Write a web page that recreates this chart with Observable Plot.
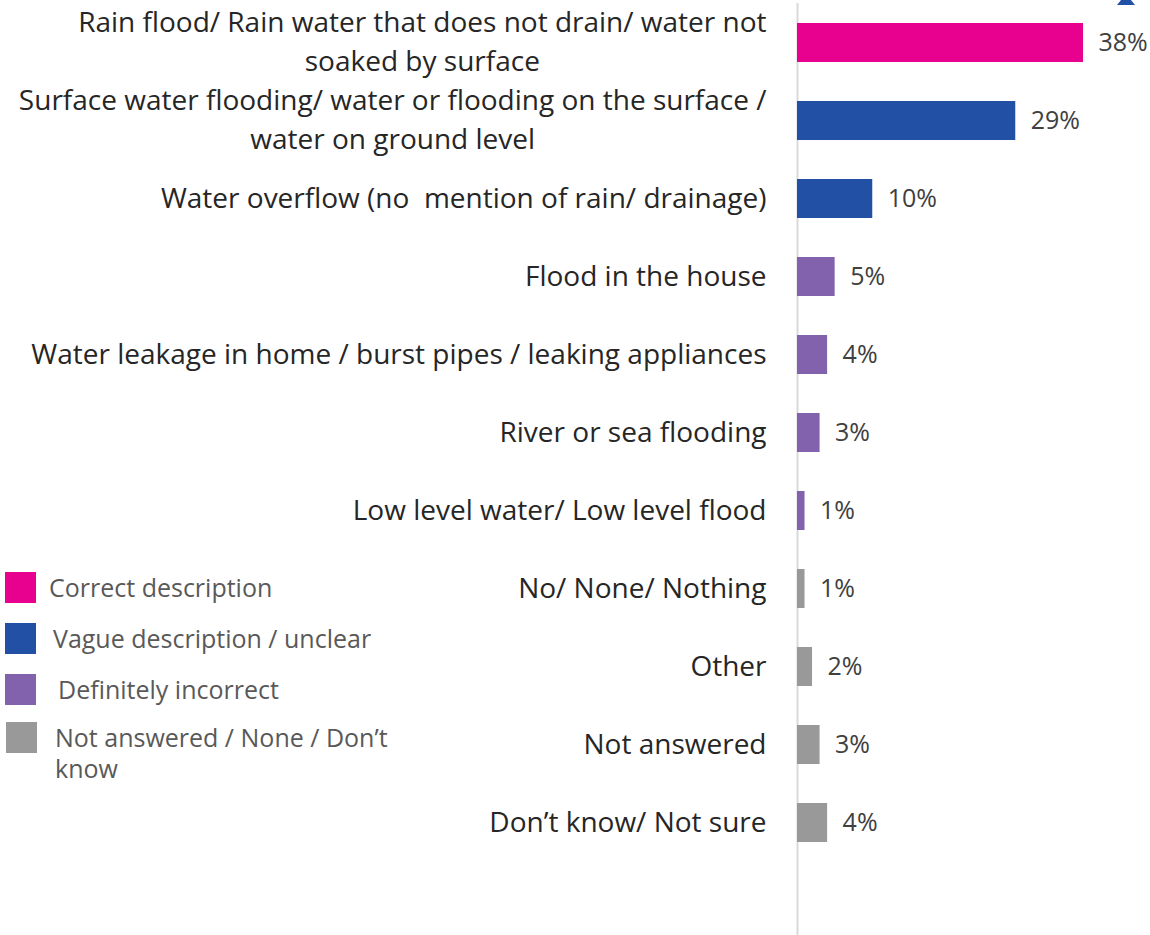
<!DOCTYPE html>
<html>
<head>
<meta charset="utf-8">
<script src="https://cdn.jsdelivr.net/npm/d3@7"></script>
<script src="https://cdn.jsdelivr.net/npm/@observablehq/plot@0.6"></script>
<style>
  html, body { margin: 0; padding: 0; background: #fff; }
  #wrap { position: relative; width: 1150px; height: 935px; overflow: hidden; }
  #chart { position: absolute; left: 0; top: 0; }
  .leg { position: absolute; font-family: "Open Sans", sans-serif; color: #595959; }
  .sw { position: absolute; width: 31px; height: 31px; }
</style>
</head>
<body>
<div id="wrap"><div id="chart"></div></div>
<script>
// ---- data ----
const categories = [
  "Rain flood/ Rain water that does not drain/ water not\nsoaked by surface",
  "Surface water flooding/ water or flooding on the surface /\nwater on ground level",
  "Water overflow (no  mention of rain/ drainage)",
  "Flood in the house",
  "Water leakage in home / burst pipes / leaking appliances",
  "River or sea flooding",
  "Low level water/ Low level flood",
  "No/ None/ Nothing",
  "Other",
  "Not answered",
  "Don\u2019t know/ Not sure"
];
const values = [38, 29, 10, 5, 4, 3, 1, 1, 2, 3, 4];
const groups = [
  "Correct description",
  "Vague description / unclear",
  "Vague description / unclear",
  "Definitely incorrect",
  "Definitely incorrect",
  "Definitely incorrect",
  "Definitely incorrect",
  "Not answered / None / Don\u2019t know",
  "Not answered / None / Don\u2019t know",
  "Not answered / None / Don\u2019t know",
  "Not answered / None / Don\u2019t know"
];
const legendLabels = [
  "Correct description",
  "Vague description / unclear",
  "Definitely incorrect",
  "Not answered / None / Don\u2019t know"
];
const legendColors = ["#E8008F", "#2150A5", "#8262AD", "#999999"];

const data = categories.map((c, i) => ({
  cat: c, value: values[i], group: groups[i], label: values[i] + "%",
  line1: c.split("\n")[0], line2: c.split("\n")[1] || null
}));

const FONT = '"Open Sans", sans-serif';
const ctx = document.createElement("canvas").getContext("2d");
function measure(t, size) { ctx.font = size + "px " + FONT; return ctx.measureText(t).width; }
// fit category label size to the longest single-line label
const labelSize = Math.min(28, 26 * 736 / measure(categories[4], 26));

const colorScale = {domain: legendLabels, range: legendColors};

const marks = [
  Plot.ruleX([0], {stroke: "#d9d9d9", strokeWidth: 2}),
  Plot.barX(data, {y: "cat", x: "value", fill: "group"}),
  Plot.text(data, {y: "cat", x: "value", text: "label", textAnchor: "start", dx: 15,
    fill: "#404040", fontSize: 25, fontFamily: FONT}),
  Plot.text(data.filter(d => !d.line2), {y: "cat", x: 0, text: "line1", textAnchor: "end", dx: -31,
    fill: "#262626", fontSize: labelSize, fontFamily: FONT})
];
for (const d of data.filter(d => d.line2)) {
  const w1 = measure(d.line1, labelSize);
  marks.push(Plot.text([d], {y: "cat", x: 0, text: "line1", textAnchor: "end", dx: -31, dy: -19.5,
    fill: "#262626", fontSize: labelSize, fontFamily: FONT}));
  marks.push(Plot.text([d], {y: "cat", x: 0, text: "line2", textAnchor: "middle", dx: -31 - w1 / 2, dy: 19.5,
    fill: "#262626", fontSize: labelSize, fontFamily: FONT}));
}

const chart = Plot.plot({
  width: 1150,
  height: 935,
  marginLeft: 0, marginRight: 0, marginTop: 3, marginBottom: 0,
  x: {domain: [0, 38], range: [797, 1083], axis: null},
  y: {domain: categories, range: [3, 861], paddingInner: 0.5, paddingOuter: 0.25, axis: null},
  color: colorScale,
  style: {fontFamily: FONT, background: "white"},
  marks
});
document.getElementById("chart").appendChild(chart);

// legend (HTML overlay at left)
const wrap = document.getElementById("wrap");
const legPos = [
  {sy: 572, sx: 5, tx: 49, ty: 588},
  {sy: 623, sx: 5, tx: 53, ty: 639},
  {sy: 674, sx: 5, tx: 58, ty: 690},
  {sy: 722, sx: 6, tx: 55, ty: 738}
];
legendLabels.forEach((l, i) => {
  const p = legPos[i];
  const sw = document.createElement("div");
  sw.className = "sw";
  sw.style.left = p.sx + "px"; sw.style.top = p.sy + "px"; sw.style.background = legendColors[i];
  wrap.appendChild(sw);
  const t = document.createElement("div");
  t.className = "leg";
  t.style.left = p.tx + "px"; t.style.top = (p.ty - 16) + "px";
  t.style.fontSize = "25px"; t.style.lineHeight = "31px";
  t.style.width = i === 3 ? "360px" : "420px";
  t.textContent = l;
  wrap.appendChild(t);
});
// small clipped marker at top-right
const mk = document.createElementNS("http://www.w3.org/2000/svg", "svg");
mk.setAttribute("width", "40"); mk.setAttribute("height", "10");
mk.style.position = "absolute"; mk.style.left = "1110px"; mk.style.top = "0px";
mk.innerHTML = '<polygon points="7,5 16,-6 25,5" fill="#2150A5"/>';
wrap.appendChild(mk);
</script>
</body>
</html>
